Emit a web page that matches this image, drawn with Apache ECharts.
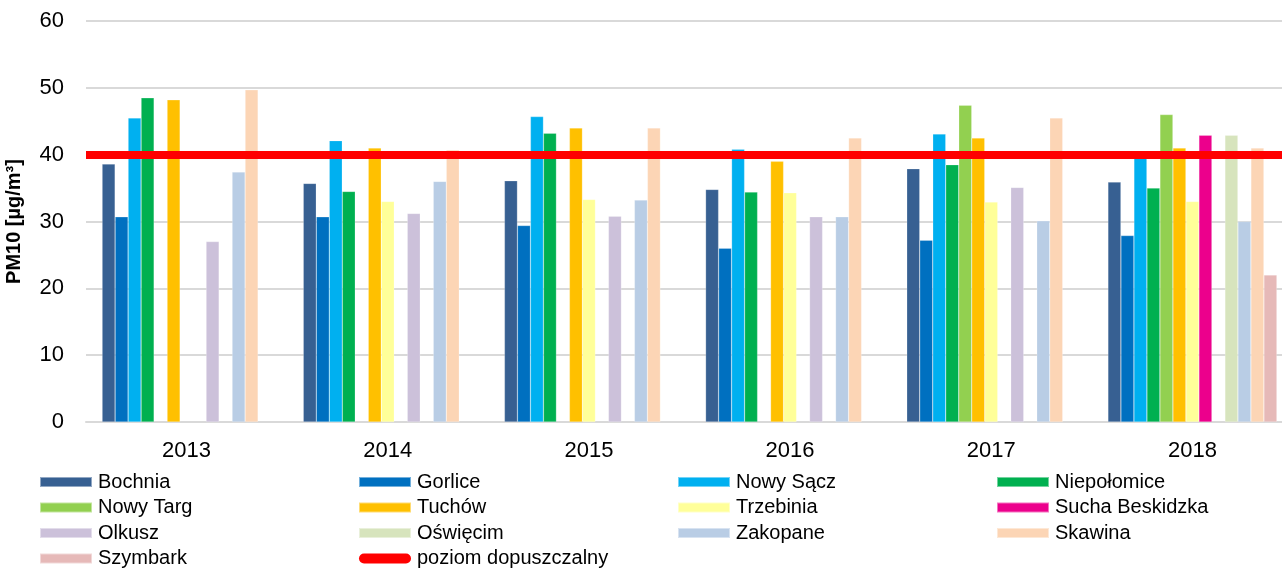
<!DOCTYPE html>
<html>
<head>
<meta charset="utf-8">
<title>PM10</title>
<script src="https://cdn.jsdelivr.net/npm/echarts@6/dist/echarts.min.js"></script>
<style>
    html, body { margin: 0; padding: 0; background: #ffffff; }
    #pm10-chart { width: 1282px; height: 570px; }
</style>
</head>
<body>
<div id="pm10-chart"></div>
<script>
// lata
const years = ['2013', '2014', '2015', '2016', '2017', '2018'];
const yTicks = [0, 10, 20, 30, 40, 50, 60];
const limitValue = 40;
const limitName = 'poziom dopuszczalny';

// średnie roczne PM10 [µg/m3] dla stacji
const stations = ['Bochnia', 'Gorlice', 'Nowy Sącz', 'Niepołomice', 'Nowy Targ', 'Tuchów', 'Trzebinia',
    'Sucha Beskidzka', 'Olkusz', 'Oświęcim', 'Zakopane', 'Skawina', 'Szymbark'];
const bochnia = [38.6, 35.7, 36.1, 34.8, 37.9, 35.9];
const gorlice = [30.7, 30.7, 29.4, 26.0, 27.2, 27.9];
const nowySacz = [45.5, 42.1, 45.7, 40.8, 43.1, 39.5];
const niepolomice = [48.5, 34.5, 43.2, 34.4, 38.5, 35.0];
const nowyTarg = [null, null, null, null, 47.4, 46.0];
const tuchow = [48.2, 41.0, 44.0, 39.0, 42.5, 41.0];
const trzebinia = [null, 33.0, 33.3, 34.3, 32.9, 33.0];
const suchaBeskidzka = [null, null, null, null, null, 42.9];
const olkusz = [27.0, 31.2, 30.8, 30.7, 35.1, null];
const oswiecim = [null, null, null, null, null, 42.9];
const zakopane = [37.4, 36.0, 33.2, 30.7, 30.1, 30.0];
const skawina = [49.7, 40.7, 44.0, 42.5, 45.5, 41.0];
const szymbark = [null, null, null, null, null, 22.0];

const values = [bochnia, gorlice, nowySacz, niepolomice, nowyTarg, tuchow, trzebinia,
    suchaBeskidzka, olkusz, oswiecim, zakopane, skawina, szymbark];
const colors = ['#376092', '#0070c0', '#00b0f0', '#00b050', '#92d050', '#ffc000', '#ffff99',
    '#ec008c', '#ccc1da', '#d7e4bd', '#b9cde5', '#fcd5b5', '#e6b9b8'];

const font = 'Arial, "Liberation Sans", sans-serif';

let series = stations.map((name, i) => ({
    name: name,
    type: 'bar',
    barGap: '0%',
    barCategoryGap: '16%',
    itemStyle: {
        color: colors[i],
        borderColor: 'rgba(255, 255, 255, 0.45)',
        borderWidth: 0.5,
    },
    data: values[i],
}));

series.push({
    name: limitName,
    type: 'line',
    symbol: 'none',
    z: 5,
    lineStyle: { color: '#ff0000', width: 8 },
    itemStyle: { color: '#ff0000' },
    data: [],
    markLine: {
        silent: true,
        symbol: 'none',
        label: { show: false },
        lineStyle: { color: '#ff0000', width: 8, type: 'solid' },
        data: [{ yAxis: limitValue }],
    },
});

// legenda w 4 kolumnach
const capsule = 'path://M5,0 H47 A5,5 0 0 1 47,10 H5 A5,5 0 0 1 5,0 Z';
const legendColumns = [
    ['Bochnia', 'Nowy Targ', 'Olkusz', 'Szymbark'],
    ['Gorlice', 'Tuchów', 'Oświęcim', { name: limitName, icon: capsule }],
    ['Nowy Sącz', 'Trzebinia', 'Zakopane'],
    ['Niepołomice', 'Sucha Beskidzka', 'Skawina'],
];
const legendLeft = [39, 358, 677, 996];

let legends = legendColumns.map((col, i) => ({
    orient: 'vertical',
    left: legendLeft[i],
    top: 472,
    padding: 0,
    itemWidth: 52,
    itemHeight: 10,
    itemGap: 5.5,
    icon: 'rect',
    selectedMode: false,
    textStyle: {
        fontFamily: font,
        fontSize: 20,
        color: '#000000',
        padding: [0, 0, 0, 1],
    },
    data: col,
}));

let option = {
    animation: false,
    backgroundColor: '#ffffff',
    legend: legends,
    grid: {
        left: 86,
        width: 1207, // wykres ucięty z prawej strony
        top: 21,
        bottom: 148,
        containLabel: false,
        outerBoundsMode: 'none',
    },
    xAxis: {
        type: 'category',
        data: years,
        axisTick: { show: false },
        axisLine: {
            lineStyle: { color: '#d9d9d9', width: 2 },
        },
        axisLabel: {
            fontFamily: font,
            fontSize: 22,
            color: '#000000',
            margin: 18,
        },
    },
    yAxis: {
        type: 'value',
        min: yTicks[0],
        max: yTicks[yTicks.length - 1],
        interval: yTicks[1] - yTicks[0],
        name: 'PM10 [µg/m³]',
        nameLocation: 'middle',
        nameGap: 62,
        nameTextStyle: {
            fontFamily: font,
            fontSize: 20,
            fontWeight: 'bold',
            color: '#000000',
        },
        axisLine: { show: false },
        axisTick: { show: false },
        axisLabel: {
            fontFamily: font,
            fontSize: 22,
            color: '#000000',
            margin: 22,
        },
        splitLine: {
            lineStyle: { color: '#d9d9d9', width: 2 },
        },
    },
    series: series,
};

let chart = echarts.init(document.getElementById('pm10-chart'));
chart.setOption(option);
window.addEventListener('resize', () => {
    chart.resize();
});
</script>
</body>
</html>
